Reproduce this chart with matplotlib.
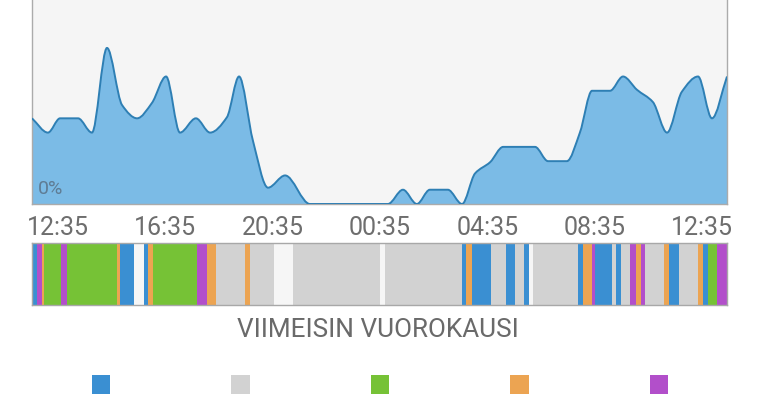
import numpy as np
import matplotlib.pyplot as plt
from matplotlib.path import Path
from matplotlib.patches import PathPatch

plt.rcParams['font.family'] = ['Roboto', 'DejaVu Sans']

# aktiivisuus (% ) viimeisen vuorokauden ajalta, tunteja alusta (12:35)
hours = [0.0, 0.55, 0.97, 1.59, 2.07, 2.59, 3.11, 3.63, 4.14, 4.63, 5.11, 5.66,
         6.15, 6.73, 7.15, 7.63, 8.15, 8.74, 9.6, 12.29, 12.81, 13.29, 13.74,
         14.36, 14.85, 15.3, 15.82, 16.27, 17.37, 17.82, 18.47, 18.92, 19.34,
         19.96, 20.41, 20.89, 21.44, 21.93, 22.44, 23.0, 23.48, 24.0]
activity = [42, 35, 42, 42, 35, 76.5, 48.5, 42, 49.5, 62.5, 35, 42,
            35, 42.5, 62.5, 31, 8, 14, 0, 0, 7, 0, 7,
            7, 0, 15, 20.5, 28, 28, 21, 21, 35, 55.5,
            55.5, 62.5, 56, 50, 35, 55, 62.5, 42, 62.5]

tick_labels = ['12:35', '16:35', '20:35', '00:35', '04:35', '08:35', '12:35']

# tilajaksot: alkuhetki (h) ja luokka, viimeinen jakso loppuu 24 h kohdalla
seg_start = [0.0, 0.17, 0.35, 0.41, 1.0, 1.21, 2.94, 3.04, 3.52, 3.87, 4.01,
             4.18, 5.70, 6.04, 6.35, 7.36, 7.53, 8.36, 9.01, 12.02, 12.19,
             14.85, 14.99, 15.19, 15.85, 16.37, 16.68, 16.99, 17.16, 17.30,
             18.85, 19.03, 19.34, 19.44, 20.03, 20.17, 20.34, 20.65, 20.86,
             21.03, 21.17, 21.82, 22.0, 22.34, 23.0, 23.17, 23.34, 23.65]
seg_class = [0, 4, 3, 2, 4, 2, 3, 0, 5, 0, 3,
             2, 4, 3, 1, 3, 1, 5, 1, 5, 1,
             0, 3, 0, 1, 0, 1, 0, 5, 1,
             0, 3, 4, 0, 1, 0, 1, 4, 3,
             4, 1, 3, 0, 1, 3, 0, 2, 4]

class_colors = ['#3a8fd2', '#d2d2d2', '#76c236', '#eca452', '#b24fca', '#f6f6f6']


def smooth_path(x, y, closed):
    # kuutiollinen bezier-polku datapisteiden kautta (monotoninen kaltevuus)
    x = np.asarray(x, float)
    y = np.asarray(y, float)
    dx = np.diff(x)
    sec = np.diff(y) / dx
    m = np.zeros_like(x)
    m[0] = sec[0]
    m[-1] = sec[-1]
    for i in range(1, len(x) - 1):
        if sec[i - 1] * sec[i] > 0:
            m[i] = 2 / (1 / sec[i - 1] + 1 / sec[i])
    if closed:
        verts = [(x[0], 0), (x[0], y[0])]
        codes = [Path.MOVETO, Path.LINETO]
    else:
        verts = [(x[0], y[0])]
        codes = [Path.MOVETO]
    for i in range(len(x) - 1):
        d = dx[i] / 3
        verts += [(x[i] + d, y[i] + m[i] * d),
                  (x[i + 1] - d, y[i + 1] - m[i + 1] * d),
                  (x[i + 1], y[i + 1])]
        codes += [Path.CURVE4] * 3
    if closed:
        verts += [(x[-1], 0), (x[0], 0)]
        codes += [Path.LINETO, Path.CLOSEPOLY]
    return Path(verts, codes)


fig = plt.figure(figsize=(7.6, 4.0), dpi=100)
fig.patch.set_facecolor('white')

# Aktiivisuuskäyrä
ax = fig.add_axes([32 / 760, 1 - 204 / 400, 695 / 760, 204 / 400])
ax.set_facecolor('#f5f5f5')
ax.add_patch(PathPatch(smooth_path(hours, activity, True), facecolor='#7bbbe6',
                       edgecolor='none', zorder=2))
ax.add_patch(PathPatch(smooth_path(hours, activity, False), facecolor='none',
                       edgecolor='#2e7fb4', lw=1.4, zorder=3))
ax.set_xlim(0, 24)
ax.set_ylim(0, 100)
ax.set_yticks([])
ax.set_xticks(np.linspace(0.9, 23.14, 7))
ax.set_xticklabels(tick_labels)
ax.tick_params(axis='x', length=0, pad=8.5, labelsize=18, labelcolor='#6e6e6e')
for side in ['left', 'right', 'bottom']:
    ax.spines[side].set_color('#ababab')
    ax.spines[side].set_linewidth(1.0)
ax.spines['top'].set_visible(False)
ax.text(0.2, 5, '0%', fontsize=14, color='#5f7c94', zorder=4)

# Tilapalkki
ax2 = fig.add_axes([32 / 760, 1 - 305 / 400, 695 / 760, 62 / 400])
seg_end = seg_start[1:] + [24.0]
widths = np.array(seg_end) - np.array(seg_start)
ax2.barh(0, widths, left=seg_start, height=1,
         color=[class_colors[c] for c in seg_class])
ax2.set_xlim(0, 24)
ax2.set_ylim(-0.5, 0.5)
ax2.set_xticks([])
ax2.set_yticks([])
for side in ax2.spines:
    ax2.spines[side].set_color('#a8a8a8')
    ax2.spines[side].set_linewidth(1.0)

fig.text(378 / 760, 1 - 330 / 400, 'VIIMEISIN VUOROKAUSI', ha='center',
         va='center', fontsize=18.8, color='#6a6a6a')

# Selite (vain värit)
ax3 = fig.add_axes([31.3 / 760, 0, 697.5 / 760, 50 / 400])
ax3.scatter(range(5), [384.5] * 5, marker='s', s=185,
            c=class_colors[:5], linewidths=0)
ax3.set_xlim(-0.5, 4.5)
ax3.set_ylim(400, 350)
ax3.axis('off')

fig.savefig('out.png', dpi=100)
